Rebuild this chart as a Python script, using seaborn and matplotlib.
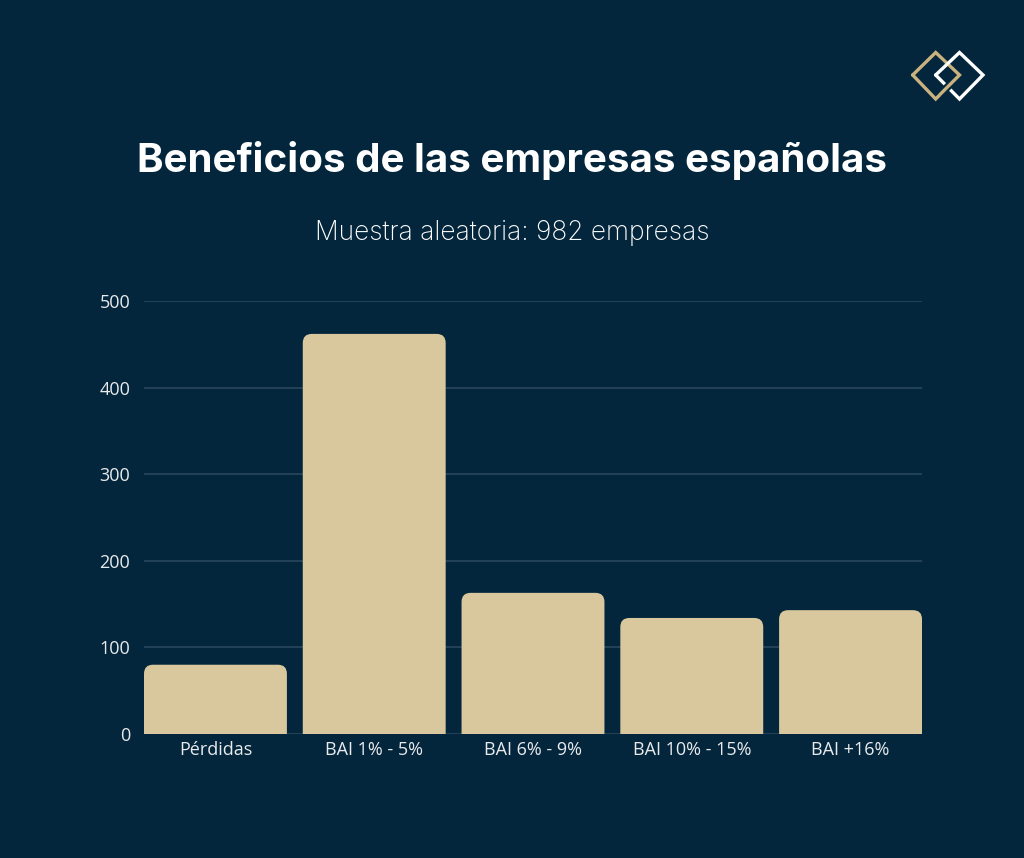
import pandas as pd
import numpy as np
import seaborn as sns
import matplotlib.pyplot as plt
from matplotlib.patches import FancyBboxPatch
from matplotlib.lines import Line2D

categorias = ['Pérdidas', 'BAI 1% - 5%', 'BAI 6% - 9%', 'BAI 10% - 15%', 'BAI +16%']
empresas = [80, 462, 163, 134, 143]
y_ticks = [0, 100, 200, 300, 400, 500]

BG = '#03263c'
BAR = '#d9c89d'
GRID = '#2c4a5e'
TXT = '#e8eaec'
GOLD = '#c9b27f'

df = pd.DataFrame({'categoria': categorias, 'empresas': empresas})

sns.set_theme(style='white')
plt.rcParams['font.family'] = ['Open Sans', 'DejaVu Sans']

fig = plt.figure(figsize=(10.24, 8.58), dpi=100, facecolor=BG)
ax = fig.add_axes([144 / 1024, 1 - 734 / 858, 778 / 1024, 433 / 858])
ax.set_facecolor(BG)

sns.barplot(data=df, x='categoria', y='empresas', color=BAR, width=0.9,
            saturation=1, ax=ax)
ax.set_xlim(-0.45, 4.45)
ax.set_ylim(0, 500)

# swap flat bars for bars with rounded top corners
px_x = 778 / 4.9
px_y = 433 / 500
for p in list(ax.patches):
    x, w, h = p.get_x(), p.get_width(), p.get_height()
    p.remove()
    r = FancyBboxPatch((x, -30), w, h + 30,
                       boxstyle='round,pad=0,rounding_size=%f' % (9 / px_x),
                       mutation_aspect=px_x / px_y,
                       facecolor=BAR, edgecolor='none', zorder=3)
    ax.add_patch(r)

ax.set_yticks(y_ticks)
ax.yaxis.grid(True, color=GRID, linewidth=1.1)
ax.set_axisbelow(True)
for s in ax.spines.values():
    s.set_visible(False)
ax.tick_params(axis='y', length=0, pad=10, labelsize=13, labelcolor=TXT)
ax.tick_params(axis='x', length=0, pad=5, labelsize=13, labelcolor=TXT)
ax.set_xlabel('')
ax.set_ylabel('')

fig.text(0.5, 1 - 161 / 858, 'Beneficios de las empresas españolas',
         ha='center', va='center', color='white', fontsize=29,
         fontweight='bold', family=['Inter', 'DejaVu Sans'])
fig.text(0.5, 1 - 233 / 858, 'Muestra aleatoria: 982 empresas',
         ha='center', va='center', color='white', fontsize=19,
         fontweight='light', family=['Inter', 'DejaVu Sans'])

# logo: two interlinked diamonds
def fx(v):
    return v / 1024

def fy(v):
    return 1 - v / 858

gold = [(912.7, 75), (935.7, 52.5), (959.5, 75), (935.7, 99), (912.7, 75)]
white = [(935.7, 75), (959.5, 52.5), (983, 75), (959.5, 99), (935.7, 75)]
for pts, c in [(gold, GOLD), (white, 'white')]:
    fig.add_artist(Line2D([fx(p[0]) for p in pts], [fy(p[1]) for p in pts],
                          color=c, linewidth=2.4, solid_joinstyle='miter'))
# gold strand passing over the white one at the lower crossing
fig.add_artist(Line2D([fx(942), fx(953)], [fy(92.5), fy(81.5)],
                      color=BG, linewidth=5.5))
fig.add_artist(Line2D([fx(940), fx(955)], [fy(94.5), fy(79.5)],
                      color=GOLD, linewidth=2.4))

fig.savefig('out.png', dpi=100, facecolor=BG)
